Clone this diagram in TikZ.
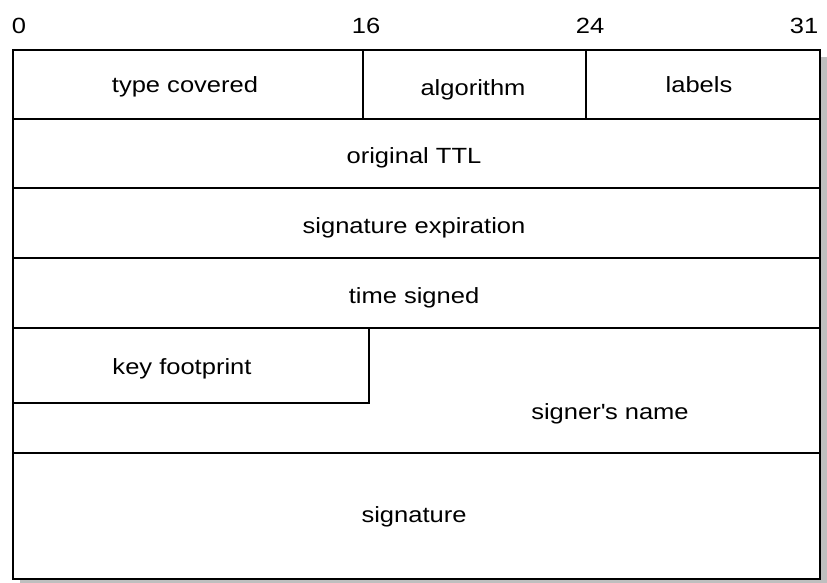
\documentclass[tikz,border=0pt]{standalone}
\usepackage{fontspec}
\setmainfont{Liberation Sans}[FakeStretch=1.16]
\begin{document}
\begin{tikzpicture}[x=1pt,y=-1pt,
  cell/.style={draw=black,line width=1.5pt,fill=white,anchor=north west,inner sep=0pt},
  txt/.style={inner sep=0pt,anchor=base,font=\fontsize{22}{26}\selectfont},
  shadowbox/.style={fill=black!25,draw=none}]
\useasboundingbox (0,0) rectangle (827,582);
\fill[shadowbox] (20,57) rectangle (828,590);
% row 1
\node[cell,minimum width=350pt,minimum height=69pt] (tc) at (12,49) {};
\node[cell,minimum width=223pt,minimum height=69pt] (alg) at (362,49) {};
\node[cell,minimum width=234pt,minimum height=69pt] (lab) at (585,49) {};
% rows 2-4
\node[cell,minimum width=807pt,minimum height=69pt] (ttl) at (12,118) {};
\node[cell,minimum width=807pt,minimum height=70pt] (exp) at (12,187) {};
\node[cell,minimum width=807pt,minimum height=70pt] (ts) at (12,257) {};
% row 5
\node[cell,minimum width=807pt,minimum height=125pt] (sn) at (12,327) {};
\node[cell,minimum width=356pt,minimum height=75pt] (kf) at (12,327) {};
% row 6
\node[cell,minimum width=807pt,minimum height=126pt] (sig) at (12,452) {};
% texts
\node[txt] (tct) at (185,92) {type covered};
\node[txt] (algt) at (473,95) {algorithm};
\node[txt] (labt) at (699,92) {labels};
\node[txt] (ttlt) at (414,163.3) {original TTL};
\node[txt] (expt) at (414,233) {signature expiration};
\node[txt] (tst) at (414,303.3) {time signed};
\node[txt] (kft) at (182,374.5) {key footprint};
\node[txt] (snt) at (610,419.3) {signer\textquotesingle s name};
\node[txt] (sigt) at (414,522) {signature};
% bit labels
\node[txt] (b0) at (19,33) {0};
\node[txt] (b16) at (366,33) {16};
\node[txt] (b24) at (590,33) {24};
\node[txt] (b31) at (804,33) {31};
\end{tikzpicture}
\end{document}
